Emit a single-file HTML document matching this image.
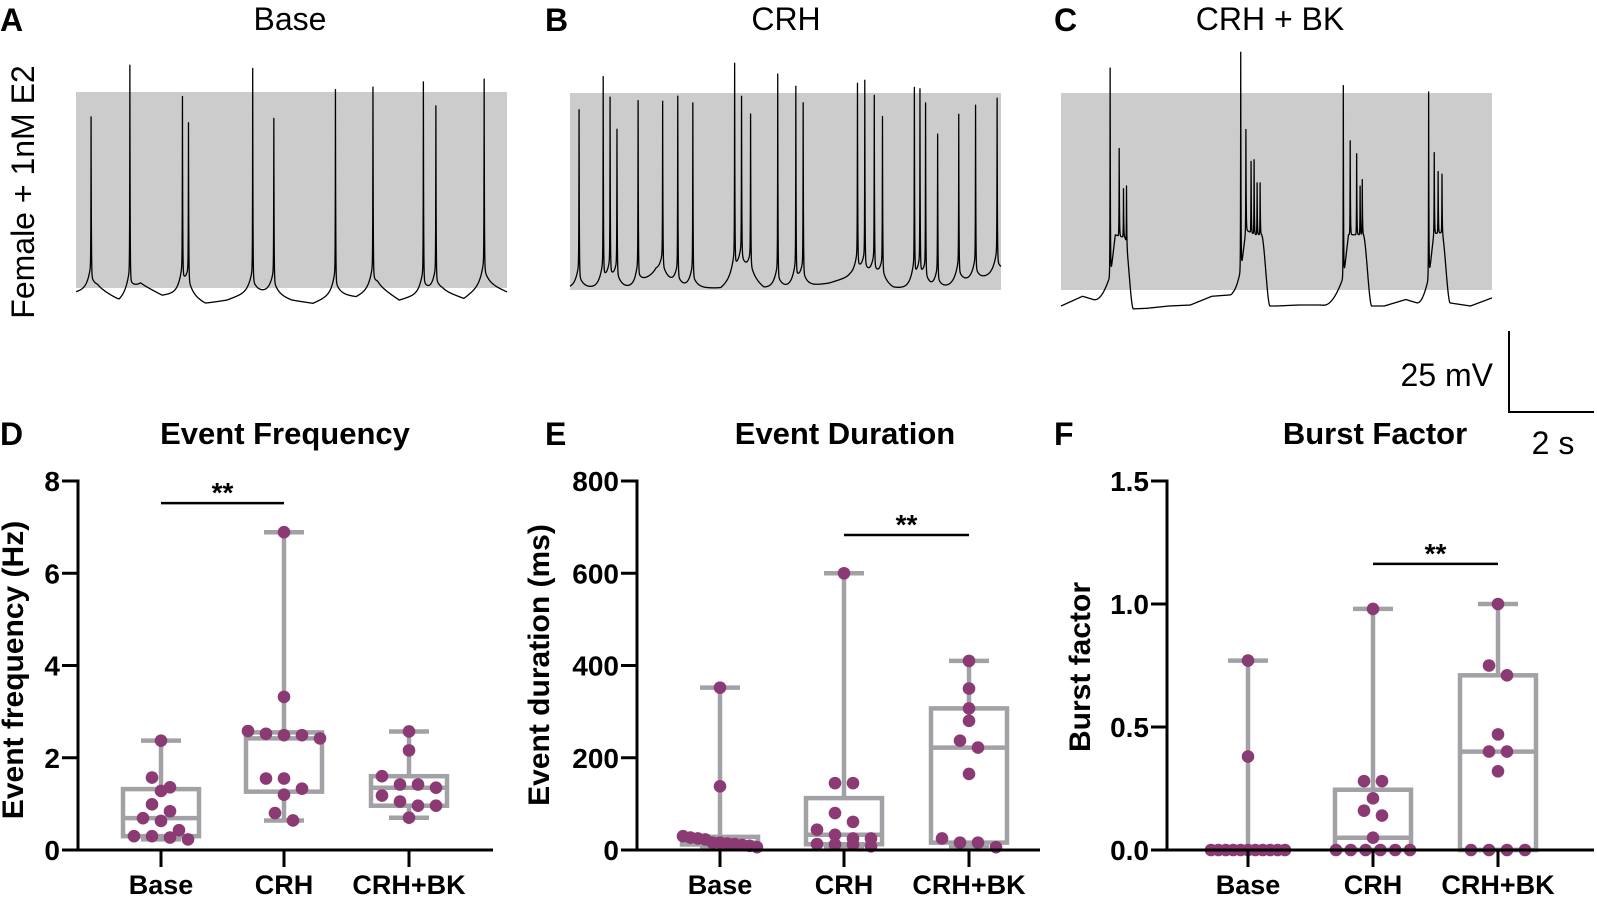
<!DOCTYPE html>
<html><head><meta charset="utf-8"><style>
html,body{margin:0;padding:0;background:#fff;}
svg{display:block;font-family:"Liberation Sans",Arial,sans-serif;}
</style></head><body>
<svg id="fig" width="1597" height="897" viewBox="0 0 1597 897" xmlns="http://www.w3.org/2000/svg">
  <g>
    <text x="0" y="31" font-size="32" font-weight="bold">A</text>
    <text x="290" y="30" font-size="32" text-anchor="middle">Base</text>
    <text x="545" y="31" font-size="32" font-weight="bold">B</text>
    <text x="786" y="30" font-size="32" text-anchor="middle">CRH</text>
    <text x="1054" y="31" font-size="32" font-weight="bold">C</text>
    <text x="1270" y="30" font-size="32" text-anchor="middle">CRH + BK</text>
    <text transform="translate(34,192) rotate(-90)" font-size="32" text-anchor="middle">Female + 1nM E2</text>
  </g>
  <rect x="76" y="92" width="431" height="196" fill="#cccccc"/>
  <rect x="570" y="93" width="431" height="197" fill="#cccccc"/>
  <rect x="1061" y="93" width="431" height="197" fill="#cccccc"/>
  <g id="traces"></g>
  <g>
    <path d="M1509,331 L1509,412 L1594,412" fill="none" stroke="#000" stroke-width="2"/>
    <text x="1493" y="386" font-size="32" text-anchor="end">25 mV</text>
    <text x="1553" y="454" font-size="32" text-anchor="middle">2 s</text>
  </g>
  <g>
    <text x="0" y="445" font-size="32" font-weight="bold">D</text>
    <text x="285" y="444" font-size="31" font-weight="bold" text-anchor="middle">Event Frequency</text>
    <text x="545" y="445" font-size="32" font-weight="bold">E</text>
    <text x="845" y="444" font-size="31" font-weight="bold" text-anchor="middle">Event Duration</text>
    <text x="1054" y="445" font-size="32" font-weight="bold">F</text>
    <text x="1375" y="444" font-size="31" font-weight="bold" text-anchor="middle">Burst Factor</text>
    <text transform="translate(23,670) rotate(-90)" font-size="30" font-weight="bold" text-anchor="middle">Event frequency (Hz)</text>
    <text transform="translate(549,665) rotate(-90)" font-size="30" font-weight="bold" text-anchor="middle">Event duration (ms)</text>
    <text transform="translate(1090,667) rotate(-90)" font-size="30" font-weight="bold" text-anchor="middle">Burst factor</text>
  </g>
  <g id="charts"></g>
</svg>
<script>
// ---- data: traces (time in s, amplitude in mV above baseline) ----
const aSpikeTimes=[0.35,1.25,2.47,2.61,4.10,4.59,6.02,6.89,8.06,8.35,9.47];
const aSpikeAmps=[54,71,60,53,66,55,60,63,62,58,64];
const aBaseline=[0,1.5,-2.5,2.5,-1,0,-3.5,-2.5,0,0,-2.5,-3.5,-0.5,-1.5,2,-2.5,-0.5,0.5,-2,3,0];
const bSpikeTimes=[0.21,0.77,0.93,1.09,1.58,2.15,2.50,2.85,3.82,3.98,4.19,4.82,5.24,5.41,6.67,6.84,7.06,7.25,7.99,8.12,8.25,8.53,9.02,9.41,9.91];
const bSpikeAmps=[56,65,58,49,58,55,60,58,66,54,51,63,58,57,60,57,53,52,61,56,57,49,49,55,55];
const bBaseline=[0,0,0,0,5,0,0,0,5,0,0,0.5,1.5,3.5,2.5,0,0,-1,1.5,2.5,5];
const cSpikeTimes=[1.14,1.35,1.45,1.52,4.17,4.29,4.41,4.48,4.55,4.62,6.55,6.71,6.86,6.94,6.99,8.53,8.66,8.75,8.84];
const cSpikeAmps=[73,49,37,38,76,53,44,45,38,38,68,51,47,37,39,66,47,41,40];
const cBurstOn=[0.75,3.92,6.09,8.25];
const cBurstMain=[1.14,4.17,6.55,8.53];
const cBurstOff=[1.68,4.85,7.21,9.03];
const cBaseline=[0,3,1,-1,-0.7,0,0.3,3,3.5,0,0,0.3,0.3,0,0,0,2,0,1,0,2.5];

// ---- data: box plots ----
const categories=['Base','CRH','CRH+BK'];
const freqBase=[2.37,1.57,1.36,1.28,0.99,0.84,0.69,0.63,0.43,0.30,0.30,0.27,0.23];
const freqCRH=[6.89,3.32,2.58,2.52,2.49,2.49,2.42,1.55,1.55,1.33,1.20,0.80,0.64];
const freqBK=[2.57,2.16,1.60,1.42,1.42,1.35,1.18,1.05,0.96,0.96,0.70];
const durBase=[352,138,30,27,25,23,16,16,14,13,11,9,6];
const durCRH=[600,145,145,80,61,44,33,25,25,13,12,12,8];
const durBK=[410,350,307,280,237,222,165,25,16,16,6];
const burstBase=[0.77,0.38,0,0,0,0,0,0,0,0,0,0,0];
const burstCRH=[0.98,0.28,0.28,0.21,0.16,0.14,0.05,0,0,0,0,0,0];
const burstBK=[1.0,0.75,0.71,0.47,0.40,0.40,0.32,0,0,0,0];
const freqTicks=[0,2,4,6,8];
const freqTickLabels=['0','2','4','6','8'];
const durTicks=[0,200,400,600,800];
const durTickLabels=['0','200','400','600','800'];
const burstTicks=[0,0.5,1.0,1.5];
const burstTickLabels=['0.0','0.5','1.0','1.5'];
const freqSig=[0,1,7.52];
const durSig=[1,2,683];
const burstSig=[1,2,1.163];

const NS='http://www.w3.org/2000/svg';
function mk(tag,attrs,parent){const e=document.createElementNS(NS,tag);for(const k in attrs)e.setAttribute(k,attrs[k]);parent.appendChild(e);return e;}

// ---- traces ----
function interp(arr,t){const p=t/0.5;const i=Math.min(arr.length-2,Math.floor(p));const f=p-i;return arr[i]+(arr[i+1]-arr[i])*f;}
function burstEnv(t,bursts){
  let v=0;
  for(let b=0;b<bursts.on.length;b++){
    const on=bursts.on[b],mn=bursts.main[b],off=bursts.off[b];
    if(t<on||t>off)continue;
    if(t<mn){v+=9*Math.pow((t-on)/(mn-on),2);}
    else if(t<mn+0.12){v+=8+14*(t-mn)/0.12;}
    else if(t<off-0.2){v+=22;}
    else{const f=(off-t)/0.2;v+=22*f*f*(3-2*f);}
  }
  return v;
}
function traceValue(t,cfg){
  let v=interp(cfg.baseline,t);
  if(cfg.bursts)v+=burstEnv(t,cfg.bursts);
  cfg.spikes.forEach((s,i)=>{const dt=t-s;if(Math.abs(dt)>0.6)return;
    let a=cfg.amps[i];
    if(cfg.bursts){a-=burstEnv(s,cfg.bursts);}
    else{ a-=5; if(dt<0) v+=8*Math.exp(dt/0.08); else v+=4*Math.exp(-dt/0.1); }
    v+=a*(dt<0?Math.exp(dt/0.004):Math.exp(-dt/0.006));
  });
  return v;
}
function drawTrace(name,cfg){
  const ts=[];for(let t=0;t<=10.0001;t+=0.004)ts.push(t);
  cfg.spikes.forEach(s=>ts.push(s));ts.sort((a,b)=>a-b);
  let d='';
  ts.forEach((t,i)=>{const x=cfg.x0+t*43.1;const y=cfg.baseY-traceValue(t,cfg)*3.24;d+=(i?'L':'M')+x.toFixed(2)+','+y.toFixed(2);});
  const p=mk('path',{d:d,fill:'none',stroke:'#000','stroke-width':1.3,'stroke-linejoin':'round'},document.getElementById('traces'));
  
  
}
drawTrace('trace-base',{x0:76,baseY:292,spikes:aSpikeTimes,amps:aSpikeAmps,baseline:aBaseline});
drawTrace('trace-crh',{x0:570,baseY:288,spikes:bSpikeTimes,amps:bSpikeAmps,baseline:bBaseline});
drawTrace('trace-crh-bk',{x0:1061,baseY:306,spikes:cSpikeTimes,amps:cSpikeAmps,baseline:cBaseline,bursts:{on:cBurstOn,main:cBurstMain,off:cBurstOff}});

// ---- box plots ----
function quant(s,p){const pos=p*(s.length+1)-1;if(pos<=0)return s[0];if(pos>=s.length-1)return s[s.length-1];const lo=Math.floor(pos);return s[lo]+(pos-lo)*(s[lo+1]-s[lo]);}
const GRAY='#a2a2a6',PURPLE='#8c3a74';
function drawPanel(id,cfg){
  const g=mk('g',{},document.getElementById('charts'));
  
  
  const y0=850,yT=481;
  const ys=v=>y0-(v/cfg.ymax)*(y0-yT);
  cfg.groups.forEach((vals,gi)=>{
    const cx=cfg.catX[gi];
    const s=vals.slice().sort((a,b)=>a-b);
    const mn=s[0],mx=s[s.length-1],q1=quant(s,0.25),md=quant(s,0.5),q3=quant(s,0.75);
    const gg=mk('g',{},g);
    
    
    const st={stroke:GRAY,'stroke-width':4.5,fill:'none'};
    const w1=mk('line',Object.assign({x1:cx,x2:cx,y1:ys(q3),y2:ys(mx)},st),gg);
    
    
    const w2=mk('line',Object.assign({x1:cx,x2:cx,y1:ys(q1),y2:ys(mn)},st),gg);
    
    
    const c1=mk('line',Object.assign({x1:cx-20,x2:cx+20,y1:ys(mx),y2:ys(mx)},st),gg);
    
    
    const c2=mk('line',Object.assign({x1:cx-20,x2:cx+20,y1:ys(mn),y2:ys(mn)},st),gg);
    
    
    const bx=mk('rect',Object.assign({x:cx-38,y:ys(q3),width:76,height:Math.max(0,ys(q1)-ys(q3))},st),gg);
    
    
    const ml=mk('line',Object.assign({x1:cx-38,x2:cx+38,y1:ys(md),y2:ys(md)},st),gg);
    
    
    const desc=s.slice().reverse();
    const rows=[];let cur=null;
    desc.forEach(v=>{const y=ys(v);if(cur&&Math.abs(y-cur.y0)<12){cur.items.push(v);}else{cur={y0:y,items:[v]};rows.push(cur);}});
    rows.forEach(r=>{const n=r.items.length;const sp=n>1?Math.min(18,74/(n-1)):0;
      r.items.forEach((v,i)=>{
        const dot=mk('circle',{cx:cx+(i-(n-1)/2)*sp,cy:ys(v),r:6.3,fill:PURPLE},gg);
        
        
      });
    });
  });
  const ya=mk('line',{x1:cfg.ax,x2:cfg.ax,y1:yT-1.5,y2:y0,stroke:'#000','stroke-width':3},g);
  
  
  const xa=mk('line',{x1:cfg.ax-16,x2:cfg.xEnd,y1:y0,y2:y0,stroke:'#000','stroke-width':3},g);
  
  
  cfg.ticks.forEach((t,i)=>{
    const tk=mk('line',{x1:cfg.ax-16,x2:cfg.ax,y1:ys(t),y2:ys(t),stroke:'#000','stroke-width':3},g);
    
    
    const tl=mk('text',{x:cfg.ax-18,y:ys(t)+10,'font-size':28,'font-weight':'bold','text-anchor':'end'},g);
    tl.textContent=cfg.tickLabels[i];
    
    
  });
  categories.forEach((c,i)=>{
    const cx=cfg.catX[i];
    const tk=mk('line',{x1:cx,x2:cx,y1:y0,y2:y0+17,stroke:'#000','stroke-width':3},g);
    
    
    const tl=mk('text',{x:cx,y:894,'font-size':27,'font-weight':'bold','text-anchor':'middle'},g);
    tl.textContent=c;
    
    
  });
  const sy=ys(cfg.sig[2]);
  const x1=cfg.catX[cfg.sig[0]],x2=cfg.catX[cfg.sig[1]];
  const sl=mk('line',{x1:x1,x2:x2,y1:sy,y2:sy,stroke:'#000','stroke-width':2.5},g);
  
  
  const stx=mk('text',{x:(x1+x2)/2,y:sy-1,'font-size':28,'font-weight':'bold','text-anchor':'middle'},g);
  stx.textContent='**';
  
  
}
drawPanel('frequency-chart',{ax:78,xEnd:493,ymax:8,ticks:freqTicks,tickLabels:freqTickLabels,catX:[161,284,409],groups:[freqBase,freqCRH,freqBK],sig:freqSig});
drawPanel('duration-chart',{ax:637,xEnd:1040,ymax:800,ticks:durTicks,tickLabels:durTickLabels,catX:[720,844,969],groups:[durBase,durCRH,durBK],sig:durSig});
drawPanel('burst-chart',{ax:1167,xEnd:1594,ymax:1.5,ticks:burstTicks,tickLabels:burstTickLabels,catX:[1248,1373,1498],groups:[burstBase,burstCRH,burstBK],sig:burstSig});
</script>
</body></html>
